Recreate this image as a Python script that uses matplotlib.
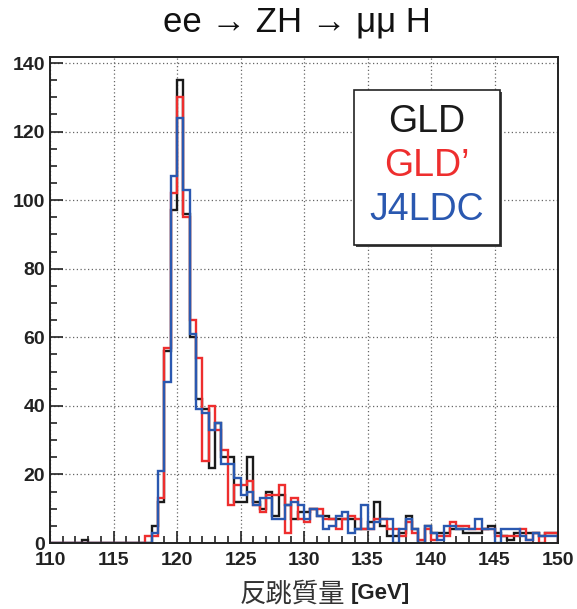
import numpy as np
import matplotlib
matplotlib.use("Agg")
import matplotlib.pyplot as plt
from matplotlib.patches import Rectangle
from matplotlib.ticker import MultipleLocator

# ---------------- data ----------------
bin_low = 110.0
bin_high = 150.0
bin_width = 0.5

gld = [0, 0, 0, 0, 0, 1, 0, 0, 0, 0,
       0, 0, 0, 0, 0, 0, 5, 12, 56, 97,
       135, 96, 60, 42, 39, 22, 35, 25, 25, 12,
       12, 25, 12, 10, 15, 8, 14, 11, 7, 9,
       9, 10, 8, 8, 7, 7, 7, 7, 4, 4,
       6, 12, 5, 2, 2, 3, 8, 4, 0, 5,
       3, 3, 3, 4, 4, 3, 3, 3, 4, 5,
       3, 2, 1, 3, 3, 3, 3, 2, 3, 3]
gld_prime = [0, 0, 0, 0, 0, 0, 0, 0, 0, 0,
             0, 0, 0, 0, 0, 2, 2, 13, 57, 102,
             130, 95, 65, 54, 24, 40, 33, 27, 11, 17,
             17, 18, 11, 9, 14, 14, 17, 3, 13, 7,
             6, 10, 10, 7, 7, 4, 7, 8, 7, 4,
             4, 7, 7, 4, 4, 2, 6, 3, 1, 4,
             1, 2, 2, 6, 5, 5, 4, 4, 4, 4,
             2, 2, 2, 2, 4, 1, 3, 0, 3, 3]
j4ldc = [0, 0, 0, 0, 0, 0, 0, 0, 0, 0,
         0, 0, 0, 0, 0, 0, 3, 21, 47, 107,
         124, 103, 61, 39, 38, 33, 35, 23, 23, 19,
         14, 15, 11, 13, 13, 7, 7, 11, 12, 11,
         7, 10, 8, 4, 5, 8, 9, 3, 4, 11,
         4, 6, 7, 7, 0, 4, 7, 4, 0, 5,
         3, 1, 5, 5, 4, 4, 4, 7, 4, 4,
         0, 4, 4, 4, 2, 1, 3, 2, 2, 2]

series_names = ["GLD", "GLD\u2019", "J4LDC"]
series_colors = ["#1a1a1a", "#ee2e2e", "#2a58b0"]
x_ticks = [110, 115, 120, 125, 130, 135, 140, 145, 150]
y_ticks = [0, 20, 40, 60, 80, 100, 120, 140]
title = "ee \u2192 ZH \u2192 \u03bc\u03bc H"
xlabel_cjk = "反跳質量"
xlabel_unit = "[GeV]"

# ---------------- figure ----------------
W, H = 577, 609
fig = plt.figure(figsize=(W / 100, H / 100), dpi=100)
ax = fig.add_axes([50 / W, 1 - 543 / H, 508 / W, 486 / H])

edges = np.arange(bin_low, bin_high + bin_width / 2, bin_width)
for vals, col in zip([gld, gld_prime, j4ldc], series_colors):
    ax.stairs(np.array(vals, dtype=float), edges, color=col, lw=1.7,
              baseline=0, fill=False)

ax.set_xlim(bin_low, bin_high)
ax.set_ylim(0, max(gld) * 1.05)

ax.set_xticks(x_ticks)
ax.set_yticks(y_ticks)
ax.xaxis.set_minor_locator(MultipleLocator(1))
ax.yaxis.set_minor_locator(MultipleLocator(5))
ax.tick_params(which="both", direction="in", top=False, right=False,
               width=1.2, color="#222222")
ax.tick_params(which="major", length=9)
ax.tick_params(which="minor", length=5)
ax.tick_params(axis="x", pad=6.5)
ax.tick_params(axis="y", pad=3.5)
for lab in ax.get_xticklabels() + ax.get_yticklabels():
    lab.set_fontfamily("Liberation Sans")
    lab.set_fontweight("bold")
    lab.set_fontsize(14)
    lab.set_color("#222222")

ax.grid(True, which="major", linestyle=(0, (1, 2)), color="#666666", lw=0.9)
ax.set_axisbelow(True)
for sp in ax.spines.values():
    sp.set_linewidth(1.4)
    sp.set_color("#222222")

# title
fig.text(297 / W, 1 - 31 / H, title, ha="center", va="baseline",
         fontsize=25, family=["Liberation Sans", "DejaVu Sans"], color="#111111")

# x label
fig.text(345 / W, 1 - 594 / H, xlabel_cjk, ha="right", va="center",
         fontsize=19, family=["Noto Sans CJK JP", "DejaVu Sans"], color="#333333")
fig.text(351 / W, 1 - 594 / H, xlabel_unit, ha="left", va="center",
         fontsize=16, family="Liberation Sans", weight="bold", color="#222222")

# legend box
x0, y0, x1, y1 = 354, 90, 500, 245
shadow = Rectangle(((x0 + 1.5) / W, 1 - (y1 + 1.5) / H),
                   (x1 - x0) / W, (y1 - y0) / H, transform=fig.transFigure,
                   facecolor="#444444", edgecolor="none", zorder=5)
fig.add_artist(shadow)
box = Rectangle((x0 / W, 1 - y1 / H), (x1 - x0) / W, (y1 - y0) / H,
                transform=fig.transFigure, facecolor="white",
                edgecolor="#222222", lw=1.2, zorder=6)
fig.add_artist(box)
for name, col, yc in zip(series_names, series_colors, [122, 166, 210]):
    fig.text(427 / W, 1 - yc / H, name, ha="center", va="center",
             fontsize=27, family="Liberation Sans", color=col, zorder=7)

fig.savefig("out.png", dpi=100)
